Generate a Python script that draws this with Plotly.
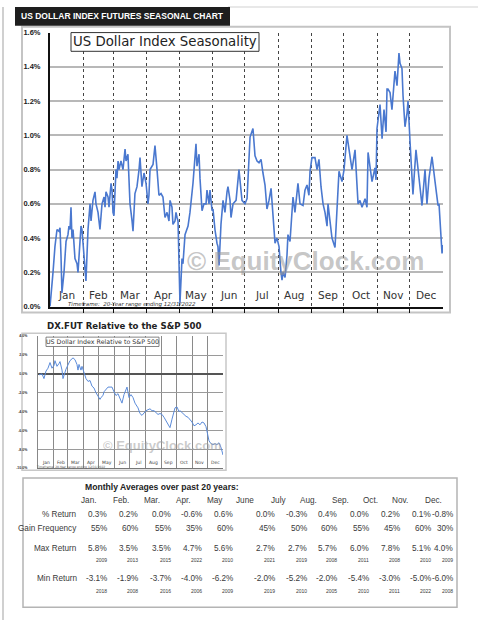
import plotly.graph_objects as go

W, H = 478, 625
def px(x): return x / W
def py(y): return 1 - y / H

# ---------------- DATA ----------------
month_names = ["Jan", "Feb", "Mar", "Apr", "May", "Jun", "Jul", "Aug", "Sep", "Oct", "Nov", "Dec"]
month_bounds = [0, 31, 59, 90, 120, 151, 181, 212, 243, 273, 304, 334, 365]

seas_day = [0, 1.9, 2.8, 4.6, 6.5, 8.4, 9.3, 10.2, 11.1, 13.0,
            14.9, 16.7, 17.6, 18.6, 19.5, 20.4, 21.4, 23.2, 25.1, 26.0,
            27.9, 28.8, 29.7, 31.6, 33.4, 35.3, 37.2, 38.1, 39.9, 41.8,
            42.7, 44.6, 46.4, 48.3, 50.2, 51.1, 52.0, 53.9, 54.8, 56.7,
            57.6, 58.5, 59.4, 61.3, 62.2, 63.2, 64.1, 65.9, 67.8, 69.7,
            70.6, 72.4, 73.4, 74.3, 76.2, 77.1, 78.9, 80.8, 82.7, 83.6,
            85.4, 87.3, 89.2, 91.0, 91.9, 92.9, 95.7, 97.5, 99.4, 101.2,
            103.1, 104.9, 106.8, 108.7, 110.5, 111.5, 113.3, 114.2, 116.1, 117.0,
            118.0, 118.9, 120.7, 122.6, 123.5, 125.4, 128.2, 130.0, 132.8, 134.7,
            135.6, 136.5, 138.4, 139.3, 141.2, 143.0, 144.9, 145.8, 147.7, 148.6,
            150.5, 151.4, 153.2, 155.1, 156.0, 157.0, 158.8, 160.7, 162.5, 164.4,
            165.3, 167.2, 168.1, 170.0, 172.8, 175.5, 178.3, 181.1, 183.0, 185.8,
            188.5, 190.4, 192.3, 194.1, 196.0, 197.8, 199.7, 201.5, 203.4, 205.3,
            207.1, 209.0, 210.8, 212.7, 214.5, 215.5, 216.4, 218.3, 220.1, 221.0,
            222.9, 225.7, 227.5, 230.3, 232.2, 235.0, 236.8, 238.7, 240.5, 241.5,
            243.3, 246.1, 248.0, 249.8, 251.7, 253.6, 255.4, 257.3, 258.2, 260.1,
            261.9, 264.7, 266.6, 268.4, 271.2, 273.1, 275.8, 278.6, 280.5, 283.3,
            285.1, 286.1, 287.9, 289.8, 292.6, 294.4, 295.4, 297.2, 299.1, 301.8,
            302.8, 303.7, 306.5, 308.4, 310.2, 312.1, 313.0, 313.9, 315.8, 317.6,
            320.4, 322.3, 324.1, 325.1, 326.9, 327.9, 329.7, 331.6, 332.5, 334.4,
            335.3, 337.1, 339.9, 342.7, 345.5, 348.3, 350.1, 352.0, 354.8, 357.6,
            360.4, 361.3, 364.1, 365.0]
seas_val = [0.0, 0.18, 0.2, 0.35, 0.45, 0.44, 0.46, 0.3, 0.08, 0.2,
            0.38, 0.42, 0.47, 0.45, 0.58, 0.4, 0.45, 0.28, 0.25, 0.2,
            0.4, 0.47, 0.45, 0.3, 0.15, 0.45, 0.6, 0.5, 0.62, 0.67,
            0.6, 0.55, 0.45, 0.6, 0.64, 0.58, 0.67, 0.64, 0.58, 0.72,
            0.68, 0.55, 0.53, 0.8, 0.75, 0.85, 0.8, 0.85, 0.8, 0.92,
            0.85, 0.89, 0.75, 0.6, 0.5, 0.44, 0.66, 0.7, 0.8, 0.87,
            0.7, 0.78, 0.72, 0.6, 0.65, 0.8, 0.83, 0.94, 0.8, 0.65,
            0.66, 0.64, 0.52, 0.55, 0.5, 0.62, 0.58, 0.48, 0.5, 0.55,
            0.52, 0.5, 0.02, 0.28, 0.25, 0.42, 0.47, 0.55, 0.72, 0.85,
            0.95, 0.82, 0.89, 0.75, 0.56, 0.6, 0.6, 0.68, 0.6, 0.68,
            0.56, 0.57, 0.45, 0.37, 0.35, 0.24, 0.48, 0.62, 0.55, 0.67,
            0.7, 0.62, 0.52, 0.6, 0.62, 0.8, 0.62, 0.6, 0.63, 0.99,
            1.04, 0.88, 0.85, 0.84, 0.86, 0.78, 0.71, 0.57, 0.62, 0.69,
            0.5, 0.37, 0.4, 0.35, 0.2, 0.155, 0.2, 0.17, 0.3, 0.42,
            0.38, 0.64, 0.55, 0.72, 0.6, 0.59, 0.68, 0.71, 0.65, 0.79,
            0.87, 0.87, 0.8, 0.86, 0.7, 0.6, 0.55, 0.47, 0.6, 0.5,
            0.4, 0.345, 0.54, 0.79, 0.73, 0.8, 1.0, 0.875, 0.8, 0.915,
            0.75, 0.6, 0.62, 0.58, 0.63, 0.58, 0.9, 0.8, 0.73, 0.81,
            0.74, 1.04, 1.18, 0.98, 1.15, 1.02, 1.27, 1.27, 1.25, 1.15,
            1.375, 1.29, 1.48, 1.42, 1.39, 1.23, 1.05, 1.13, 1.2, 0.96,
            0.865, 0.655, 0.915, 0.75, 0.59, 0.8, 0.6, 0.75, 0.875, 0.73,
            0.59, 0.6, 0.31, 0.36]

rel_day = [2.0, 7.9, 11.8, 15.8, 19.7, 23.7, 27.6, 31.6, 33.5, 37.5,
           41.4, 43.4, 47.4, 49.3, 55.2, 59.2, 63.1, 69.1, 73.0, 76.9,
           78.9, 80.9, 84.8, 86.8, 90.8, 94.7, 98.7, 102.6, 106.5, 110.5,
           114.4, 118.4, 122.3, 124.3, 128.2, 130.2, 134.2, 138.1, 142.1, 146.0,
           149.9, 153.9, 157.8, 161.8, 165.7, 169.7, 175.6, 179.5, 183.5, 187.4,
           191.4, 197.3, 201.2, 205.2, 209.1, 213.1, 217.0, 221.0, 224.9, 228.9,
           232.8, 236.8, 240.7, 244.7, 248.6, 252.5, 256.5, 260.4, 264.4, 268.3,
           270.3, 274.2, 278.2, 280.2, 284.1, 288.1, 292.0, 296.0, 299.9, 303.8,
           307.8, 311.7, 315.7, 319.6, 323.6, 327.5, 331.5, 333.4, 337.4, 341.3,
           345.3, 349.2, 353.2, 357.1, 361.1, 365.0]
rel_val = [-0.1, 0.0, -0.5, 0.3, 0.6, 1.2, 0.6, 0.9, 1.4, 0.8,
           1.1, 1.3, 0.4, -0.5, 0.5, 1.0, 1.4, 1.7, 1.5, 1.0,
           0.4, 1.0, 0.4, 0.8, 0.0, -0.5, -0.8, -0.7, -1.3, -1.5,
           -2.0, -2.3, -2.7, -2.5, -2.3, -1.9, -1.6, -1.4, -1.4, -1.4,
           -1.9, -2.3, -2.1, -2.7, -3.1, -2.2, -1.4, -2.5, -2.2, -2.5,
           -3.1, -3.6, -4.2, -4.4, -4.1, -3.9, -3.8, -3.7, -3.9, -3.9,
           -4.1, -4.3, -4.2, -4.3, -4.6, -5.0, -5.4, -5.7, -4.8, -4.0,
           -3.6, -3.5, -4.0, -3.9, -4.1, -4.4, -4.5, -4.6, -4.8, -5.1,
           -5.5, -5.4, -5.2, -5.4, -5.1, -5.2, -5.6, -6.0, -7.1, -7.4,
           -7.5, -7.4, -7.5, -7.3, -7.8, -8.6]

tbl_months = ["Jan.", "Feb.", "Mar.", "Apr.", "May", "June", "July", "Aug.", "Sep.", "Oct.", "Nov.", "Dec."]
pct_return = ["0.3%", "0.2%", "0.0%", "-0.6%", "0.6%", "0.0%", "-0.3%", "0.4%", "0.0%", "0.2%", "0.1%", "-0.8%"]
gain_freq = ["55%", "60%", "55%", "35%", "60%", "45%", "50%", "60%", "55%", "45%", "60%", "30%"]
max_return = ["5.8%", "3.5%", "3.5%", "4.7%", "5.6%", "2.7%", "2.7%", "5.7%", "6.0%", "7.8%", "5.1%", "4.0%"]
max_year = ["2009", "2013", "2015", "2022", "2010", "2021", "2019", "2008", "2011", "2008", "2010", "2009"]
min_return = ["-3.1%", "-1.9%", "-3.7%", "-4.0%", "-6.2%", "-2.0%", "-5.2%", "-2.0%", "-5.4%", "-3.0%", "-5.0%", "-6.0%"]
min_year = ["2018", "2008", "2016", "2006", "2009", "2019", "2010", "2005", "2010", "2011", "2022", "2008"]

# ---------------- LAYOUT CONSTANTS ----------------
mids = [(month_bounds[i] + month_bounds[i + 1]) / 2 for i in range(12)]
col_right = [109, 140, 173, 204, 235, 277, 309, 339, 371, 402, 433, 455]
hdr_center = [88, 121, 152, 183, 215, 245, 278, 308, 340, 370, 400, 433]
NARROW = "Liberation Sans, Arial, sans-serif"
VERD = "DejaVu Sans, Verdana, sans-serif"
ARIAL = "Liberation Sans, Arial, sans-serif"


def txt(text, x, y, size, family=ARIAL, color="#222", weight="normal", xanchor="center", style="normal"):
    return dict(text=text, x=px(x), y=py(y), xref="paper", yref="paper", xanchor=xanchor,
                yanchor="middle", showarrow=False,
                font=dict(family=family, size=size, color=color, weight=weight, style=style))


fig = go.Figure()
fig.add_trace(go.Scatter(x=seas_day, y=seas_val, mode="lines",
                         line=dict(color="#4a78cf", width=1.6), xaxis="x", yaxis="y",
                         hoverinfo="skip"))
fig.add_trace(go.Scatter(x=rel_day, y=rel_val, mode="lines",
                         line=dict(color="#5b8bd9", width=1), xaxis="x2", yaxis="y2",
                         hoverinfo="skip"))

ann = []
shapes = []

def rect(x0, y0, x1, y1, fill="rgba(0,0,0,0)", lc="#000", lw=1, layer="above"):
    return dict(type="rect", xref="paper", yref="paper", x0=px(x0), x1=px(x1), y0=py(y1), y1=py(y0),
                fillcolor=fill, line=dict(color=lc, width=lw), layer=layer)

# page borders
shapes.append(dict(type="line", xref="paper", yref="paper", x0=px(3), x1=px(3), y0=py(3), y1=py(625),
                   line=dict(color="#d0d0d0", width=2)))
shapes.append(dict(type="line", xref="paper", yref="paper", x0=px(228), x1=px(478), y0=py(3), y1=py(3),
                   line=dict(color="#e0e0e0", width=1.5)))

# header
shapes.append(rect(15, 3, 230, 22, fill="#1e1e1e", lw=0))
ann.append(txt("US DOLLAR INDEX FUTURES SEASONAL CHART", 122.5, 12.5, 8.5, ARIAL, "white", "bold"))

# main frame
shapes.append(rect(22, 23, 450, 313, lc="#c4c4c4", lw=2, layer="below"))

# title box main
shapes.append(rect(71, 29, 259, 48, fill="white", lc="#333", lw=1))
ann.append(txt("US Dollar Index Seasonality", 165, 38.5, 13.3, VERD, "#222"))

# month labels (main) inside plot
for m, mid in zip(month_names, mids):
    ann.append(dict(text=m, x=mid, y=py(295), xref="x", yref="paper", xanchor="center", yanchor="middle",
                    showarrow=False, font=dict(family=VERD, size=10.5, color="#333")))

# watermark main
ann.append(txt("© EquityClock.com", 305, 261, 26, ARIAL, "rgba(150,150,150,0.55)", "bold"))
ann.append(txt("Timeframe:  20-Year range ending 12/31/2022", 132, 304.5, 5.5, VERD, "#333", style="italic"))

# small chart
ann.append(txt("DX.FUT Relative to the S&P 500", 124, 327, 8.6, VERD, "#222", "bold"))
shapes.append(rect(22, 334, 226, 473, lc="#c8c8c8", lw=1.5, layer="below"))
shapes.append(rect(46, 338, 159, 347.5, fill="white", lc="#666", lw=0.8))
ann.append(txt("US Dollar Index Relative to S&P 500", 102.5, 342.8, 6.3, VERD, "#333"))
for m, mid in zip(month_names, mids):
    ann.append(dict(text=m, x=mid, y=py(465.5), xref="x2", yref="paper", xanchor="center", yanchor="middle",
                    showarrow=False, font=dict(family=VERD, size=4.5, color="#444")))
ann.append(txt("© EquityClock.com", 162, 448, 13, ARIAL, "rgba(160,160,160,0.55)", "bold"))
ann.append(txt("Timeframe: 20-Year range ending 12/31/2022", 70, 470, 3, VERD, "#555"))

# table
shapes.append(rect(23, 481, 457, 612, lc="#b4b4b4", lw=1.5))
ann.append(txt("Monthly Averages over past 20 years:", 83, 490, 8.6, NARROW, "#222", "bold", xanchor="left"))
TC = "#3a3a3a"
row_labels = [("% Return", 518), ("Gain Frequency", 532), ("Max Return", 552), ("Min Return", 583)]
for t, yy in row_labels:
    ann.append(txt(t, 79, yy, 8.2, NARROW, TC, xanchor="right"))
for i in range(12):
    ann.append(txt(tbl_months[i], hdr_center[i], 504, 8.2, NARROW, TC))
    for vals, yy, sz in [(pct_return, 518, 8.2), (gain_freq, 532, 8.2), (max_return, 552, 8.2),
                         (max_year, 564, 5), (min_return, 583, 8.2), (min_year, 596, 5)]:
        ann.append(txt(vals[i], col_right[i], yy, sz, NARROW, TC, xanchor="right"))

fig.update_layout(
    width=W, height=H, margin=dict(l=0, r=0, t=0, b=0),
    paper_bgcolor="white", plot_bgcolor="white", showlegend=False,
    annotations=ann, shapes=shapes,
    xaxis=dict(domain=[px(50), px(443)], range=[0, 365], anchor="y",
               tickmode="array", tickvals=mids, showticklabels=False,
               ticks="", showgrid=False, zeroline=False,
               showline=True, linecolor="#111", linewidth=2,
               minor=dict(tickmode="array", tickvals=month_bounds[1:-1], showgrid=True, griddash="dot",
                          gridcolor="#444", gridwidth=1, ticks="outside", ticklen=4, tickcolor="#111")),
    yaxis=dict(domain=[py(307), py(29)], range=[0, 1.6], anchor="x",
               tickmode="array", tickvals=[0, 0.2, 0.4, 0.6, 0.8, 1.0, 1.2, 1.4, 1.6],
               ticktext=["0.0%", "0.2%", "0.4%", "0.6%", "0.8%", "1.0%", "1.2%", "1.4%", "1.6%"],
               ticks="", ticklabelstandoff=6, showline=True, linecolor="#111", linewidth=2,
               gridcolor="#b8b8b8", gridwidth=1.5, zeroline=False,
               tickfont=dict(family=ARIAL, size=7.5, color="#222", weight="bold")),
    xaxis2=dict(domain=[px(38), px(223)], range=[0, 365], anchor="y2",
                tickmode="array", tickvals=mids, showticklabels=False,
                ticks="", showgrid=False, zeroline=False, showline=True, linecolor="#777", linewidth=1,
                minor=dict(tickmode="array", tickvals=month_bounds[1:], showgrid=True,
                           gridcolor="#8a8a8a", gridwidth=1, ticks="")),
    yaxis2=dict(domain=[py(471), py(337)], range=[-10, 4], anchor="x2",
                tickmode="array", tickvals=[-10, -8, -6, -4, -2, 0, 2, 4],
                ticktext=["-10.0%", "-8.0%", "-6.0%", "-4.0%", "-2.0%", "0.0%", "2.0%", "4.0%"],
                ticks="", ticklabelstandoff=9, showline=True, linecolor="#888", linewidth=1,
                gridcolor="#9a9a9a", gridwidth=1, zeroline=True, zerolinecolor="#555", zerolinewidth=2,
                tickfont=dict(family=ARIAL, size=3.5, color="#333", weight="bold")),
)

fig.write_html("out.html")
